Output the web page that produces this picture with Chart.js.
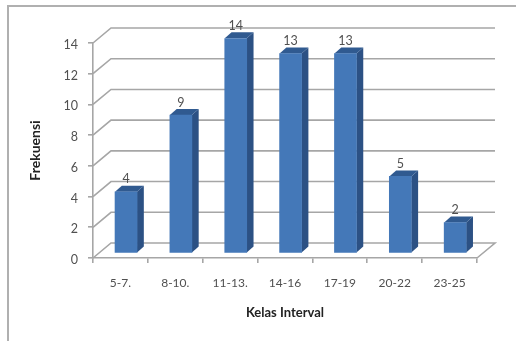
<!DOCTYPE html>
<html>
<head>
<meta charset="utf-8">
<style>
  html, body { margin: 0; padding: 0; background: #fff; }
  .canvas-container { width: 516px; height: 341px; }
  canvas { display: block; filter: blur(0.4px); }
</style>
<script src="https://cdn.jsdelivr.net/npm/chart.js@4"></script>
</head>
<body>
<div class="canvas-container"><canvas id="chart" width="516" height="341"></canvas></div>
<script>
const categories = ['5-7.', '8-10.', '11-13.', '14-16', '17-19', '20-22', '23-25'];
const frekuensi = [4, 9, 14, 13, 13, 5, 2];
const yTicks = [0, 2, 4, 6, 8, 10, 12, 14];

const gridColor = '#a6a6a6';
const textColor = '#505050';

// fake 3d: bars sit a bit behind the front axes, the wall further back
const bar3d = {
  id: 'bar3d',
  beforeDraw(chart) {
    const ctx = chart.ctx;
    // picture frame
    ctx.save();
    ctx.strokeStyle = '#b0b0b0';
    ctx.lineWidth = 2;
    ctx.beginPath();
    ctx.moveTo(516, 6);
    ctx.lineTo(8, 6);
    ctx.lineTo(8, 341);
    ctx.stroke();
    ctx.restore();
  },
  beforeDatasetsDraw(chart) {
    const ctx = chart.ctx;
    const { x, y } = chart.scales;
    const dx = 18, dy = 15;
    ctx.save();
    ctx.strokeStyle = gridColor;
    ctx.lineWidth = 1.6;
    yTicks.forEach((v) => {
      const py = y.getPixelForValue(v);
      ctx.beginPath();
      ctx.moveTo(x.left, py);
      ctx.lineTo(x.left + dx, py - dy);
      ctx.lineTo(x.right + dx, py - dy);
      if (v === 0) ctx.lineTo(x.right, py);
      ctx.stroke();
    });
    ctx.restore();

    // side and top of every bar, then move the context for the real bars
    const ox = 5.6, oy = -4.8, sx = 6.8, sy = 6;
    ctx.save();
    ctx.translate(ox, oy);
    chart.getDatasetMeta(0).data.forEach((bar) => {
      const l = bar.x - bar.width / 2;
      const r = bar.x + bar.width / 2;
      ctx.fillStyle = '#2c5184';
      ctx.beginPath();
      ctx.moveTo(r, bar.y);
      ctx.lineTo(r + sx, bar.y - sy);
      ctx.lineTo(r + sx, bar.base - sy);
      ctx.lineTo(r, bar.base);
      ctx.closePath();
      ctx.fill();
      ctx.fillStyle = '#305a90';
      ctx.beginPath();
      ctx.moveTo(l, bar.y);
      ctx.lineTo(l + sx, bar.y - sy);
      ctx.lineTo(r + sx, bar.y - sy);
      ctx.lineTo(r, bar.y);
      ctx.closePath();
      ctx.fill();
    });
    ctx.restore();
    ctx.save();
    ctx.translate(ox, oy);
  },
  afterDatasetsDraw(chart) {
    const ctx = chart.ctx;
    ctx.restore();
    ctx.save();
    ctx.translate(5.6, -4.8);
    ctx.fillStyle = textColor;
    ctx.font = '12.5px Lato';
    ctx.textAlign = 'center';
    ctx.textBaseline = 'middle';
    chart.getDatasetMeta(0).data.forEach((bar, i) => {
      ctx.fillText(frekuensi[i], bar.x, bar.y - 12.5);
    });
    ctx.restore();
  },
};

new Chart(document.getElementById('chart'), {
  type: 'bar',
  data: {
    labels: categories,
    datasets: [{ data: frekuensi, backgroundColor: '#4478b8', barThickness: 22 }],
  },
  options: {
    responsive: false,
    animation: false,
    layout: { padding: { left: 0, top: 43, right: 39, bottom: 20 } },
    plugins: { legend: { display: false }, tooltip: { enabled: false } },
    scales: {
      x: {
        afterFit(s) { s.height = 63; },
        grid: { offset: true, drawOnChartArea: false, color: gridColor, tickLength: 5, lineWidth: 1.6 },
        border: { color: gridColor, width: 1.6 },
        ticks: { color: textColor, font: { family: 'Lato', size: 12 }, padding: 13, maxRotation: 0 },
        title: {
          display: true, text: 'Kelas Interval', color: '#222',
          font: { family: 'Lato', size: 13, weight: 'bold' }, padding: { top: 14, bottom: 0 },
        },
      },
      y: {
        min: 0,
        max: 14,
        afterFit(s) { s.width = 93; },
        grid: { drawOnChartArea: false, color: gridColor, tickLength: 5, lineWidth: 1.6 },
        border: { color: gridColor, width: 1.6 },
        ticks: { color: textColor, font: { family: 'Lato', size: 12.5 }, padding: 10, stepSize: 2, labelOffset: 2 },
        title: {
          display: true, text: 'Frekuensi', color: '#222',
          font: { family: 'Lato', size: 14, weight: 'bold' }, padding: { top: 27 },
        },
      },
    },
  },
  plugins: [bar3d],
});
</script>
</body>
</html>
